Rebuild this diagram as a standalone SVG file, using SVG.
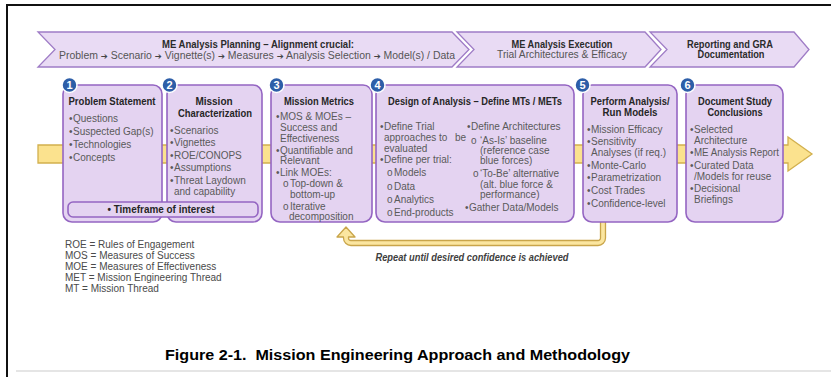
<svg xmlns="http://www.w3.org/2000/svg" width="831" height="377" viewBox="0 0 831 377">
<style>
text{font-family:"Liberation Sans",Arial,sans-serif}
.chev{fill:#e9dbf4;stroke:#9f7cc6;stroke-width:1.3}
.box{fill:#e4d3f1;stroke:#9465c2;stroke-width:1.6}
.ttl{font-size:10px;font-weight:bold;fill:#262626;text-anchor:middle}
.ctl{font-size:10px;font-weight:bold;fill:#2b2b2b;text-anchor:middle}
.csub{font-size:10px;fill:#555;text-anchor:middle}
.ar{font-family:"DejaVu Sans",sans-serif;font-size:8px;fill:#444}
.b{font-size:10px;fill:#5a5a5a}
.num{fill:#2d5ea8;stroke:#fff;stroke-width:1.5}
.numt{font-size:11px;font-weight:bold;fill:#fff;text-anchor:middle}
.leg{font-size:10px;fill:#4a4a4a}
</style>
<rect x="0" y="0" width="831" height="377" fill="#fff"/>
<line x1="6" y1="5" x2="831" y2="5" stroke="#111" stroke-width="2"/>
<line x1="7" y1="4" x2="7" y2="377" stroke="#111" stroke-width="2"/>
<line x1="16" y1="371" x2="831" y2="371" stroke="#dcdcdc" stroke-width="1.5"/>

<g id="phase-planning">
<path class="chev" d="M38,32 H452 L469,49.5 L452,67 H38 L55,49.5 Z"/>
<text class="ctl" x="258" y="48" textLength="192" lengthAdjust="spacingAndGlyphs">ME Analysis Planning – Alignment crucial:</text>
<text class="csub" x="257" y="58.5" textLength="396" lengthAdjust="spacingAndGlyphs">Problem <tspan class="ar">➔</tspan> Scenario <tspan class="ar">➔</tspan> Vignette(s) <tspan class="ar">➔</tspan> Measures <tspan class="ar">➔</tspan> Analysis Selection <tspan class="ar">➔</tspan> Model(s) / Data</text>
</g>
<g id="phase-execution">
<path class="chev" d="M457,32 H645 L661,49.5 L645,67 H457 L474,49.5 Z"/>
<text class="ctl" x="562" y="47.5" textLength="101" lengthAdjust="spacingAndGlyphs">ME Analysis Execution</text>
<text class="csub" x="562" y="58" textLength="130" lengthAdjust="spacingAndGlyphs">Trial Architectures &amp; Efficacy</text>
</g>
<g id="phase-reporting">
<path class="chev" d="M650,32 H794 L809,49.5 L794,67 H650 L667,49.5 Z"/>
<text class="ctl" x="730" y="47.5" textLength="86" lengthAdjust="spacingAndGlyphs">Reporting and GRA</text>
<text class="ctl" x="731" y="58" textLength="67" lengthAdjust="spacingAndGlyphs">Documentation</text>
</g>

<g id="connectors">
<path d="M38,145 H788 V137 L812,154 L788,171 V163 H38 Z" fill="#fbe28e" stroke="#d2b04e" stroke-width="1.3"/>
<path d="M605.5,218 V238 A7.5,7.5 0 0 1 598,245.5 H351 A7.5,7.5 0 0 1 343.5,238 V237 H337 L346,227 L355,237 H348.5 V238 A2.5,2.5 0 0 0 351,240.5 H598 A2.5,2.5 0 0 0 600.5,238 V218 Z" fill="#fbe6a0" stroke="#c9a54a" stroke-width="1.3" stroke-linejoin="round"/>
<text x="472" y="260.5" font-size="10" font-style="italic" font-weight="bold" fill="#404040" text-anchor="middle" textLength="193" lengthAdjust="spacingAndGlyphs">Repeat until desired confidence is achieved</text>
</g>

<g id="node1">
<rect class="box" x="63" y="85" width="99" height="137" rx="9"/>
<text class="ttl" x="112" y="105" textLength="87" lengthAdjust="spacingAndGlyphs">Problem Statement</text>
<text class="b"><tspan x="69" y="121.5">•</tspan><tspan x="73" y="121.5">Questions</tspan><tspan x="69" y="134.5">•</tspan><tspan x="73" y="134.5">Suspected Gap(s)</tspan><tspan x="69" y="147.5">•</tspan><tspan x="73" y="147.5">Technologies</tspan><tspan x="69" y="160.5">•</tspan><tspan x="73" y="160.5">Concepts</tspan></text>
</g>
<g id="node2">
<rect class="box" x="167" y="85" width="95" height="137" rx="9"/>
<text class="ttl" x="214" y="105">Mission</text>
<text class="ttl" x="215" y="116.5" textLength="74" lengthAdjust="spacingAndGlyphs">Characterization</text>
<text class="b"><tspan x="170" y="133.5">•</tspan><tspan x="174" y="133.5">Scenarios</tspan><tspan x="170" y="146">•</tspan><tspan x="174" y="146">Vignettes</tspan><tspan x="170" y="158.5">•</tspan><tspan x="174" y="158.5">ROE/CONOPS</tspan><tspan x="170" y="171">•</tspan><tspan x="174" y="171">Assumptions</tspan><tspan x="170" y="183.5">•</tspan><tspan x="174" y="183.5">Threat Laydown</tspan><tspan x="174" y="195">and capability</tspan></text>
</g>
<g id="timeframe">
<rect class="box" x="68" y="202" width="190" height="15" rx="5"/>
<text x="161" y="212.5" font-size="10" font-weight="bold" fill="#262626" text-anchor="middle" textLength="107" lengthAdjust="spacingAndGlyphs">• Timeframe of interest</text>
</g>
<g id="node3">
<rect class="box" x="271" y="85" width="101" height="137" rx="9"/>
<text class="ttl" x="319" y="105" textLength="70" lengthAdjust="spacingAndGlyphs">Mission Metrics</text>
<text class="b"><tspan x="276" y="119.5">•</tspan><tspan x="280" y="119.5">MOS &amp; MOEs –</tspan><tspan x="280" y="130.5">Success and</tspan><tspan x="280" y="141.5">Effectiveness</tspan><tspan x="276" y="153.5">•</tspan><tspan x="280" y="153.5">Quantifiable and</tspan><tspan x="280" y="163.5">Relevant</tspan><tspan x="276" y="175.5">•</tspan><tspan x="280" y="175.5">Link MOEs:</tspan><tspan x="283" y="186.5">o</tspan><tspan x="290" y="186.5">Top-down &amp;</tspan><tspan x="290" y="197.5">bottom-up</tspan><tspan x="283" y="210">o</tspan><tspan x="290" y="210">Iterative</tspan><tspan x="289" y="220">decomposition</tspan></text>
</g>
<g id="node4">
<rect class="box" x="376" y="85" width="198" height="137" rx="9"/>
<text class="ttl" x="475" y="105" textLength="174" lengthAdjust="spacingAndGlyphs">Design of Analysis – Define MTs / METs</text>
<text class="b"><tspan x="380" y="129.5">•</tspan><tspan x="384" y="129.5">Define Trial</tspan><tspan x="384" y="140.5">approaches to</tspan><tspan x="455" y="140.5">be</tspan><tspan x="384" y="151.5">evaluated</tspan><tspan x="380" y="163">•</tspan><tspan x="384" y="163">Define per trial:</tspan><tspan x="387" y="176">o</tspan><tspan x="394" y="176">Models</tspan><tspan x="387" y="189.5">o</tspan><tspan x="394" y="189.5">Data</tspan><tspan x="387" y="202.5">o</tspan><tspan x="394" y="202.5">Analytics</tspan><tspan x="387" y="216">o</tspan><tspan x="394" y="216">End-products</tspan></text>
<text class="b"><tspan x="467" y="129.5">•</tspan><tspan x="471" y="129.5">Define Architectures</tspan><tspan x="471" y="143.5">o</tspan><tspan x="480" y="143.5">‘As-Is’ baseline</tspan><tspan x="480" y="153.5">(reference case</tspan><tspan x="480" y="163.5">blue forces)</tspan><tspan x="473" y="177">o</tspan><tspan x="480" y="177">‘To-Be’ alternative</tspan><tspan x="480" y="188">(alt. blue force &amp;</tspan><tspan x="480" y="198">performance)</tspan><tspan x="465" y="211">•</tspan><tspan x="469" y="211">Gather Data/Models</tspan></text>
</g>
<g id="node5">
<rect class="box" x="583" y="85" width="94" height="137" rx="9"/>
<text class="ttl" x="630" y="105" textLength="79" lengthAdjust="spacingAndGlyphs">Perform Analysis/</text>
<text class="ttl" x="630" y="116" textLength="55" lengthAdjust="spacingAndGlyphs">Run Models</text>
<text class="b"><tspan x="587" y="133">•</tspan><tspan x="591" y="133">Mission Efficacy</tspan><tspan x="587" y="145">•</tspan><tspan x="591" y="145">Sensitivity</tspan><tspan x="591" y="156">Analyses (if req.)</tspan><tspan x="587" y="169">•</tspan><tspan x="591" y="169">Monte-Carlo</tspan><tspan x="587" y="181">•</tspan><tspan x="591" y="181">Parametrization</tspan><tspan x="587" y="194">•</tspan><tspan x="591" y="194">Cost Trades</tspan><tspan x="587" y="207">•</tspan><tspan x="591" y="207">Confidence-level</tspan></text>
</g>
<g id="node6">
<rect class="box" x="686" y="85" width="97" height="137" rx="9"/>
<text class="ttl" x="735" y="105" textLength="74" lengthAdjust="spacingAndGlyphs">Document Study</text>
<text class="ttl" x="735" y="116" textLength="55" lengthAdjust="spacingAndGlyphs">Conclusions</text>
<text class="b"><tspan x="690" y="133">•</tspan><tspan x="694" y="133">Selected</tspan><tspan x="694" y="143.5">Architecture</tspan><tspan x="690" y="156">•</tspan><tspan x="694" y="156" textLength="85" lengthAdjust="spacingAndGlyphs">ME Analysis Report</tspan><tspan x="690" y="169">•</tspan><tspan x="694" y="169">Curated Data</tspan><tspan x="694" y="179.5">/Models for reuse</tspan><tspan x="690" y="192">•</tspan><tspan x="694" y="192">Decisional</tspan><tspan x="694" y="202.5">Briefings</tspan></text>
</g>

<g id="badges">
<circle class="num" cx="69.5" cy="85" r="7.5"/><text class="numt" x="69.5" y="89">1</text>
<circle class="num" cx="169.5" cy="85" r="7.5"/><text class="numt" x="169.5" y="89">2</text>
<circle class="num" cx="276.5" cy="85" r="7.5"/><text class="numt" x="276.5" y="89">3</text>
<circle class="num" cx="377.5" cy="85" r="7.5"/><text class="numt" x="377.5" y="89">4</text>
<circle class="num" cx="582.5" cy="85" r="7.5"/><text class="numt" x="582.5" y="89">5</text>
<circle class="num" cx="687.5" cy="85" r="7.5"/><text class="numt" x="687.5" y="89">6</text>
</g>

<g id="legend">
<text class="leg" x="65" y="247.5">ROE = Rules of Engagement</text>
<text class="leg" x="65" y="258.5">MOS = Measures of Success</text>
<text class="leg" x="65" y="269.5">MOE = Measures of Effectiveness</text>
<text class="leg" x="65" y="280.5">MET = Mission Engineering Thread</text>
<text class="leg" x="65" y="291.5">MT = Mission Thread</text>
</g>

<text x="165" y="360" font-size="14.5" font-weight="bold" fill="#000" style="white-space:pre" textLength="465" lengthAdjust="spacingAndGlyphs">Figure 2-1.  Mission Engineering Approach and Methodology</text>
</svg>
